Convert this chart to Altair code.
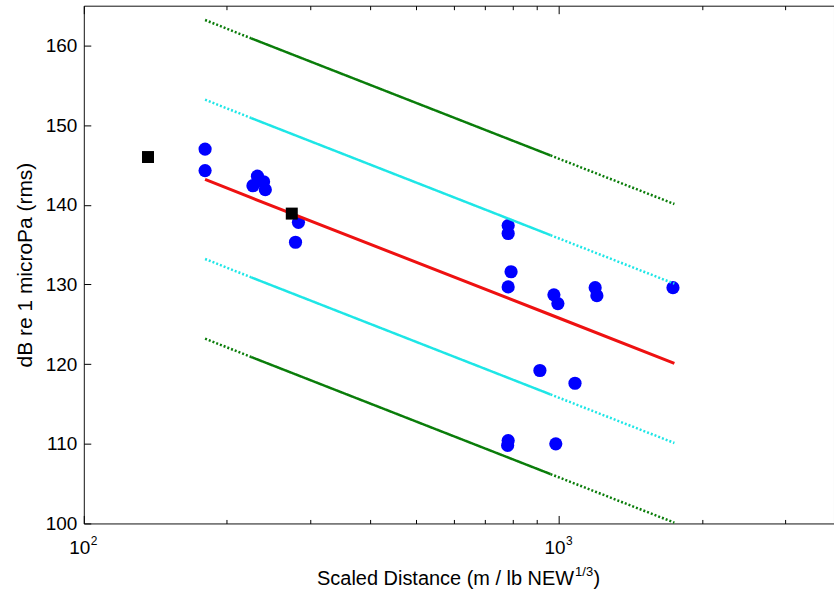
import altair as alt
import pandas as pd

# ---- data ----
blue_x = [180, 180, 227, 232, 239, 241, 279, 283, 782, 782, 793, 782, 976, 995,
          1192, 1202, 1738, 912, 1081, 782, 780, 985]
blue_y = [147.0, 144.3, 142.4, 143.6, 142.9, 141.9, 135.3, 137.8, 137.4, 136.4,
          131.6, 129.7, 128.7, 127.6, 129.6, 128.6, 129.6, 119.2, 117.6, 110.4,
          109.8, 110.0]

square_x = [136.5, 274]
square_y = [146.0, 138.9]

fit_x = [180, 225, 960, 1750]
seg_style = ["dotted", "solid", "dotted"]
red_y = [143.2, 140.9, 126.2, 120.1]
cyan_hi_y = [153.2, 150.9, 136.2, 130.1]
cyan_lo_y = [133.2, 130.9, 116.2, 110.1]
green_hi_y = [163.2, 160.9, 146.2, 140.1]
green_lo_y = [123.2, 120.9, 106.2, 100.1]

major_ticks = [100, 1000]
major_base = ["10", "10"]
major_exp = ["2", "3"]
minor_ticks = [200, 300, 400, 500, 600, 700, 800, 900, 2000, 3000]
y_ticks = [100, 110, 120, 130, 140, 150, 160]

FONT = "Liberation Sans"


def segments(name, ys):
    rows = []
    for k, st in enumerate(seg_style):
        for j in (k, k + 1):
            rows.append({"line": name, "seg": f"{name}-{k}", "style": st,
                         "x": fit_x[j], "y": ys[j]})
    return rows


cyan_df = pd.DataFrame(segments("chi", cyan_hi_y) + segments("clo", cyan_lo_y))
green_df = pd.DataFrame(segments("ghi", green_hi_y) + segments("glo", green_lo_y))
red_df = pd.DataFrame({"x": fit_x, "y": red_y})
blue_df = pd.DataFrame({"x": blue_x, "y": blue_y})
sq_df = pd.DataFrame({"x": square_x, "y": square_y})
lab_df = pd.DataFrame({"x": major_ticks, "base": major_base, "exp": major_exp})

xscale = alt.Scale(type="log", domain=[100, 3793])
yscale = alt.Scale(domain=[100, 165])
dash = alt.StrokeDash("style:N", scale=alt.Scale(domain=["solid", "dotted"],
                                                  range=[[1, 0], [2, 2]]),
                      legend=None)

common_ax = dict(grid=False, domain=False, tickColor="black", tickWidth=1,
                 labelFont=FONT, labelColor="black", titleFont=FONT,
                 titleColor="black", titleFontWeight="normal")

ax_bottom_major = alt.Axis(orient="bottom", values=major_ticks, tickSize=8, offset=-8,
                           labels=False, title=None, **common_ax)
ax_bottom_minor = alt.Axis(orient="bottom", values=minor_ticks, tickSize=4, offset=-4,
                           labels=False, title=None, **common_ax)
ax_top_major = alt.Axis(orient="top", values=major_ticks, tickSize=8, offset=-8,
                        labels=False, title=None, **common_ax)
ax_top_minor = alt.Axis(orient="top", values=minor_ticks, tickSize=4, offset=-4,
                        labels=False, title=None, **common_ax)
ax_left = alt.Axis(orient="left", values=y_ticks, tickSize=7, offset=-7,
                   labelFontSize=19, labelPadding=7,
                   title="dB re 1 microPa (rms)", titleFontSize=21, titlePadding=10,
                   **common_ax)

blue = alt.Chart(blue_df).mark_circle(size=175, color="#0000ff", opacity=1).encode(
    x=alt.X("x:Q", scale=xscale, axis=ax_top_minor),
    y=alt.Y("y:Q", scale=yscale, axis=None),
)

cyan = alt.Chart(cyan_df).mark_line(color="#1ee6e6", strokeWidth=2.5).encode(
    x=alt.X("x:Q", scale=xscale, axis=ax_top_major),
    y=alt.Y("y:Q", scale=yscale, axis=None),
    detail="seg:N",
    strokeDash=dash,
)

green = alt.Chart(green_df).mark_line(color="#0a7d0a", strokeWidth=2.5).encode(
    x=alt.X("x:Q", scale=xscale, axis=ax_bottom_major),
    y=alt.Y("y:Q", scale=yscale, axis=ax_left),
    detail="seg:N",
    strokeDash=dash,
)

red = alt.Chart(red_df).mark_line(color="#ee1111", strokeWidth=3).encode(
    x=alt.X("x:Q", scale=xscale, axis=ax_bottom_minor),
    y=alt.Y("y:Q", scale=yscale, axis=None),
)

squares = alt.Chart(sq_df).mark_square(size=144, color="black", opacity=1).encode(
    x=alt.X("x:Q", scale=xscale, axis=None),
    y=alt.Y("y:Q", scale=yscale, axis=None),
)

# x tick labels 10^2, 10^3 with raised exponents
lab_base = alt.Chart(lab_df).mark_text(
    font=FONT, fontSize=19, align="center", baseline="alphabetic", color="black", dx=-4
).encode(x=alt.X("x:Q", scale=xscale, axis=None), y=alt.value(550), text="base:N")
lab_exp = alt.Chart(lab_df).mark_text(
    font=FONT, fontSize=12, align="left", baseline="alphabetic", color="black", dx=7
).encode(x=alt.X("x:Q", scale=xscale, axis=None), y=alt.value(541), text="exp:N")

title_main = alt.Chart(pd.DataFrame({"t": ["Scaled Distance (m / lb NEW"]})).mark_text(
    font=FONT, fontSize=20, align="right", baseline="alphabetic", color="black"
).encode(x=alt.value(491.5), y=alt.value(581), text="t:N")
title_sup = alt.Chart(pd.DataFrame({"t": ["1/3"]})).mark_text(
    font=FONT, fontSize=13, align="left", baseline="alphabetic", color="black"
).encode(x=alt.value(492.5), y=alt.value(572), text="t:N")
title_end = alt.Chart(pd.DataFrame({"t": [")"]})).mark_text(
    font=FONT, fontSize=20, align="left", baseline="alphabetic", color="black"
).encode(x=alt.value(511), y=alt.value(581), text="t:N")

chart = (
    alt.layer(blue, cyan, green, red, squares, lab_base, lab_exp,
              title_main, title_sup, title_end)
    .resolve_axis(x="independent", y="independent")
    .properties(
        width=752, height=519,
        padding={"left": 84, "top": 5, "right": 0, "bottom": 66},
        autosize=alt.AutoSizeParams(type="none"),
        background="white",
    )
    .configure_view(stroke="#111111", strokeWidth=1)
)

chart.save("out.html", embed_options={"renderer": "svg", "actions": False})
